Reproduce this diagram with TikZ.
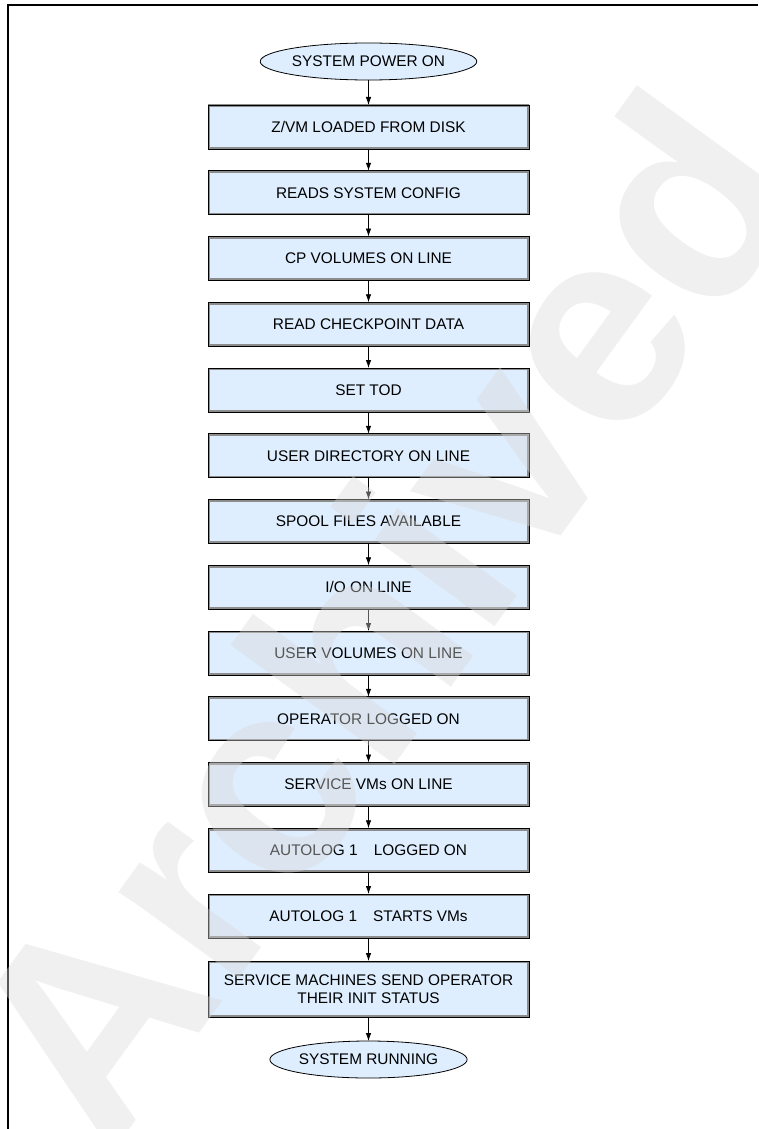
\documentclass[tikz,border=0pt]{standalone}
\usepackage{fontspec}
\setmainfont{Liberation Sans}
\usetikzlibrary{arrows.meta, positioning, shapes.geometric}
\definecolor{boxblue}{RGB}{222,238,254}

\begin{document}
\begin{tikzpicture}[
		x=1pt, y=-1pt,
		font=\fontsize{15.4}{17.5}\selectfont,
		stepbox/.style={rectangle, draw=black, line width=0.9pt, fill=boxblue, minimum width=321pt, minimum height=44pt, inner sep=0pt, outer sep=0pt, align=center,
			path picture={\draw [black!45, line width=4.5pt] (path picture bounding box.south west) rectangle (path picture bounding box.north east);}},
		endpoint/.style={ellipse, draw=black, line width=0.8pt, fill=boxblue, minimum width=195pt, minimum height=37pt, inner sep=0pt, outer sep=0pt},
		flow/.style={-{Latex[length=8pt, width=5.5pt]}, line width=0.8pt},
		node distance=21.75pt
		]
		\useasboundingbox (0,0) rectangle (759,1129);
		\draw [line width=1.2pt] (8,1129) -- (8,5) -- (758,5);
		\node [endpoint] (poweron) at (368.5,61.5) {SYSTEM POWER ON};
		\node [stepbox] (zvm) [below=25pt of poweron] {Z/VM LOADED FROM DISK};
		\node [stepbox] (config) [below=of zvm] {READS SYSTEM CONFIG};
		\node [stepbox] (cpvol) [below=of config] {CP VOLUMES ON LINE};
		\node [stepbox] (checkpoint) [below=of cpvol] {READ CHECKPOINT DATA};
		\node [stepbox] (settod) [below=of checkpoint] {SET TOD};
		\node [stepbox] (userdir) [below=of settod] {USER DIRECTORY ON LINE};
		\node [stepbox] (spool) [below=of userdir] {SPOOL FILES AVAILABLE};
		\node [stepbox] (io) [below=of spool] {I/O ON LINE};
		\node [stepbox] (uservol) [below=of io] {USER VOLUMES ON LINE};
		\node [stepbox] (operator) [below=of uservol] {OPERATOR LOGGED ON};
		\node [stepbox] (servicevms) [below=of operator] {SERVICE VMs ON LINE};
		\node [stepbox] (autologon) [below=of servicevms] {AUTOLOG 1\hspace{16pt}LOGGED ON};
		\node [stepbox] (autostart) [below=of autologon] {AUTOLOG 1\hspace{16pt}STARTS VMs};
		\node [stepbox, minimum height=56pt] (initstatus) [below=23pt of autostart] {SERVICE MACHINES SEND OPERATOR\\THEIR INIT STATUS};
		\node [endpoint] (running) [below=24pt of initstatus] {SYSTEM RUNNING};
		\foreach \a/\b in {poweron/zvm, zvm/config, config/cpvol, cpvol/checkpoint, checkpoint/settod, settod/userdir, userdir/spool, spool/io, io/uservol, uservol/operator, operator/servicevms, servicevms/autologon, autologon/autostart, autostart/initstatus, initstatus/running}
			\draw [flow] (\a) -- (\b);
		% watermark laid over the chart
		\node [rotate=54, text=black!15, text opacity=0.4, font=\fontsize{280}{280}\selectfont\bfseries] (watermark) at (380,615) {Archived};
	\end{tikzpicture}
\end{document}
